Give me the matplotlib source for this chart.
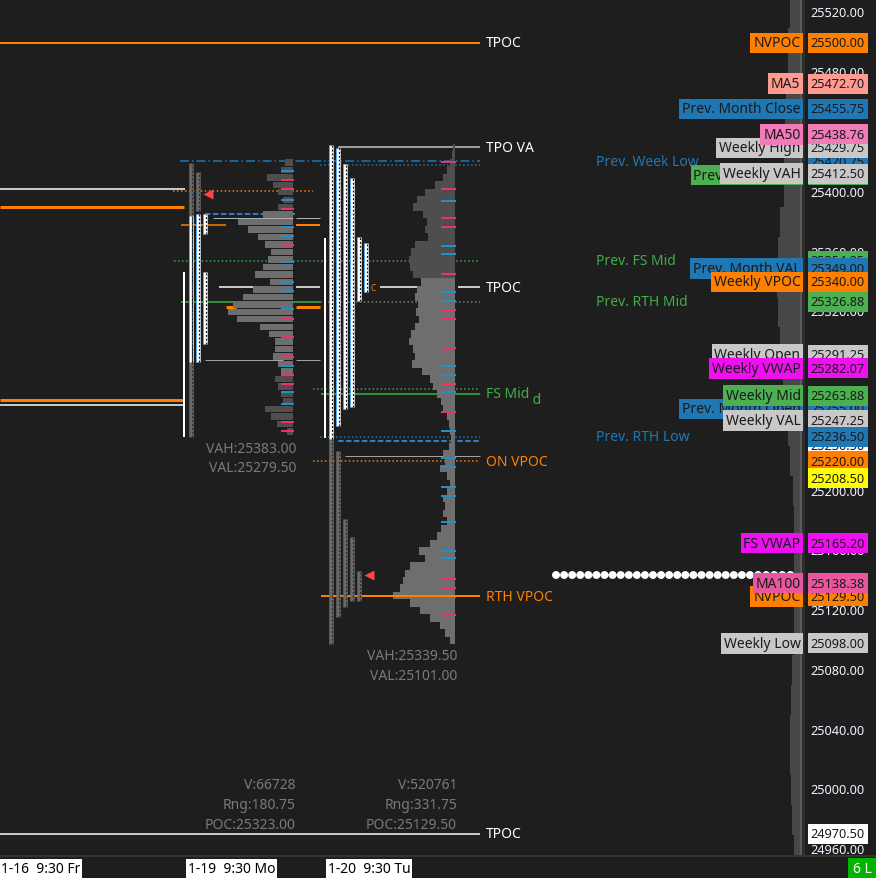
import matplotlib
matplotlib.use("Agg")
import matplotlib.pyplot as plt
from matplotlib.patches import Rectangle

plt.rcParams['font.family'] = ['Noto Sans', 'DejaVu Sans']
FS = 10
FSN = 9.2

BG = '#1e1e1e'
ORANGE = '#ff8000'
GREEN = '#3fae49'
BLUE = '#1f78b4'
LBLUE = '#3a9bff'
WHITE = '#ffffff'
PINKT = '#e8336b'
DTXT = '#1a1a1a'

# ---------------- data ----------------
axis_ticks = [25520, 25480, 25440, 25400, 25360, 25320, 25280, 25240,
              25200, 25160, 25120, 25080, 25040, 25000, 24960]

# right-axis price markers (drawn in this order, later on top)
marker_prices = [25500.00, 25472.70, 25455.75, 25420.75, 25429.75, 25438.76,
                 25411.50, 25412.50, 25354.25, 25349.00, 25340.00, 25326.88,
                 25291.25, 25282.07, 25255.00, 25263.88, 25247.25, 25230.50,
                 25236.50, 25220.00, 25208.50, 25165.20, 25129.50, 25138.38,
                 25098.00, 24970.50]
marker_names = ['NVPOC', 'MA5', 'Prev. Month Close', '', 'Weekly High', 'MA50',
                'Prev. Week High', 'Weekly VAH', '', 'Prev. Month VAL', 'Weekly VPOC', '',
                'Weekly Open', 'Weekly VWAP', 'Prev. Month Open', 'Weekly Mid', 'Weekly VAL', '',
                '', '', '', 'FS VWAP', 'NVPOC', 'MA100',
                'Weekly Low', '']
marker_colors = ['#ff8000', '#ff9a8f', '#1f77b4', '#1f77b4', '#c8c8c8', '#f27ab9',
                 '#4caf50', '#c8c8c8', '#4caf50', '#1f77b4', '#ff8000', '#4caf50',
                 '#c8c8c8', '#ee10ee', '#1f77b4', '#4caf50', '#c8c8c8', '#ffffff',
                 '#1f77b4', '#ff8000', '#ffff00', '#ee10ee', '#ff8000', '#e8579e',
                 '#c8c8c8', '#ffffff']

# chart texts left of the axis
side_text = ['Prev. Week Low', 'Prev. FS Mid', 'Prev. RTH Mid', 'Prev. RTH Low']
side_price = [25420.75, 25354.25, 25326.88, 25236.50]
side_color = [BLUE, GREEN, GREEN, BLUE]

# line labels
line_labels = ['TPOC', 'TPO VA', 'TPOC', 'FS Mid', 'ON VPOC', 'RTH VPOC', 'TPOC']
line_label_price = [25500.0, 25430.25, 25336.5, 25265.0, 25220.0, 25129.5, 24970.5]
line_label_color = [WHITE, WHITE, WHITE, GREEN, ORANGE, ORANGE, WHITE]

# session 1 (1-19) volume profile, 5-pt bins from 25240
s1_low = 25240
s1_vol = [6, 16, 22, 28, 10, 12, 15, 18, 12, 15, 20, 18, 18, 24, 33, 56, 65, 60, 50, 40,
          23, 38, 30, 25, 22, 28, 35, 45, 55, 30, 15, 10, 15, 20, 26, 12, 8]
s1_vah, s1_val = 25383.00, 25279.50
s1_stats = ['V:66728', 'Rng:180.75', 'POC:25323.00']

# session 2 (1-20) volume profile, 5-pt bins from 25100
s2_low = 25100
s2_vol = [5, 10, 15, 25, 35, 45, 62, 55, 52, 50,
          45, 30, 36, 25, 18, 14, 8, 12, 10, 12,
          8, 5, 8, 15, 10, 12, 6, 4, 5, 6,
          8, 12, 14, 18, 22, 25, 33, 43, 40, 42,
          46, 44, 40, 36, 39, 37, 40, 38, 34, 42,
          45, 46, 44, 40, 27, 30, 28, 32, 42, 38,
          30, 20, 12, 8, 5, 3, 2]
s2_vah, s2_val = 25339.50, 25101.00
s2_stats = ['V:520761', 'Rng:331.75', 'POC:25129.50']

# delta ticks at profile edges
s1_blue = [25414, 25395, 25377, 25371, 25353, 25340, 25334, 25322, 25284, 25266, 25258]
s1_pink = [25408, 25402, 25389, 25365, 25315, 25303, 25290, 25278, 25272, 25246, 25240]
s2_blue = [25394, 25364, 25359, 25333, 25327, 25284, 25278, 25266, 25240,
           25222, 25216, 25203, 25197, 25179, 25160, 25155]
s2_pink = [25420, 25402, 25383, 25377, 25345, 25321, 25315, 25296, 25272, 25253,
           25141, 25135, 25129, 25117]

# TPO columns: (column index, low, high)
s1_tpo_gray = [(0, 25236.2, 25419.6), (1, 25387.5, 25413.6)]
s1_tpo_white = [(0, 25286.4, 25384.1), (1, 25286.4, 25385.5), (2, 25372.1, 25385.5), (2, 25298.4, 25346.6)]
s2_tpo_white = [(0, 25234.9, 25431.6), (1, 25243.6, 25429.6), (2, 25255.0, 25418.9),
                (3, 25256.3, 25409.6), (4, 25327.2, 25370.1), (5, 25333.3, 25366.1)]
s2_tpo_gray = [(0, 25097.7, 25234.9), (1, 25115.7, 25226.8), (2, 25122.4, 25181.3),
               (3, 25126.4, 25169.3), (4, 25126.4, 25146.5)]
s1_ib = (25236.2, 25346.6)
s2_ib = (25235.5, 25369.4)
s1_arrow = 25398.8
s2_arrow = 25143.8
dot_line_price = 25144.0

# whole-range volume histogram (20-pt bins from 24960)
full_low = 24960
full_vol = [6, 8, 9, 10, 10, 9, 8, 6, 6, 6, 6, 6, 7, 10, 12, 15, 17, 20, 22, 23,
            22, 20, 16, 16, 15, 14, 12, 12, 10]

time_labels = ['1-16  9:30 Fr', '1-19  9:30 Mo', '1-20  9:30 Tu']

# ---------------- layout ----------------
Y_TOP, Y_BOT = 25529.37, 24956.4
PLOT_H = 856
PXP = PLOT_H / (Y_TOP - Y_BOT)   # pixels per point
S1_X, S1_R = 191, 293
S2_X, S2_R = 331, 455
COL_DX = 7
BOX_H = 20 / PXP

def lw(px):
    return px * 0.72

fig = plt.figure(figsize=(8.76, 8.79), dpi=100)
fig.patch.set_facecolor(BG)
ax = fig.add_axes([0, 23 / 879, 1, PLOT_H / 879])
ax.set_xlim(0, 876)
ax.set_ylim(Y_BOT, Y_TOP)
ax.axis('off')

# horizontal level lines: (price, x0, x1, color, style, width px, zorder)
DD = (0, (6, 2, 1, 2))
levels = [
    (marker_prices[0], 0, 480, ORANGE, '-', 2, 3),
    (marker_prices[-1], 0, 480, WHITE, '-', 1.5, 3),
    (25402.0, 0, 185, WHITE, '-', 1.5, 3),
    (25390.25, 0, 184, ORANGE, '-', 3, 3),
    (25261.0, 0, 184, ORANGE, '-', 3, 3),
    (25257.75, 0, 185, WHITE, '-', 1.5, 3),
    (25420.75, 180, 480, BLUE, DD, 1.5, 3),
    (25418.25, 320, 480, BLUE, ':', 1.5, 3),
    (25401.0, 173, 313, ORANGE, ':', 1.5, 3),
    (25430.25, 338, 480, '#c8c8c8', '-', 1.5, 3),
    (25385.5, 205, 295, LBLUE, '--', 1.5, 3),
    (s1_vah, 213, 293, '#b0b0b0', '-', 1, 3),
    (s1_vah, 296, 320, '#b0b0b0', '-', 1, 3),
    (25378.0, 181, 226, ORANGE, '-', 1.5, 3),
    (25378.0, 296, 320, ORANGE, '-', 2, 3),
    (25354.25, 174, 480, GREEN, ':', 1.5, 3),
    (25336.5, 219, 293, WHITE, '-', 1.5, 3),
    (25336.5, 296, 320, WHITE, '-', 1.5, 3),
    (25336.5, 380, 455, WHITE, '-', 1.5, 3),
    (25336.5, 458, 480, WHITE, '-', 1.5, 3),
    (25326.88, 181, 320, GREEN, '-', 1.5, 3),
    (25326.88, 320, 480, '#6a8a6a', ':', 1.5, 3),
    (25323.0, 226, 236, ORANGE, '-', 3, 3),
    (25323.0, 296, 320, ORANGE, '-', 3, 3),
    (25287.5, 205, 283, '#a0a0a0', '-', 1, 3),
    (25287.5, 296, 320, '#a0a0a0', '-', 1, 3),
    (25268.25, 313, 480, GREEN, ':', 1.5, 3),
    (25265.0, 321, 480, GREEN, '-', 1.5, 3),
    (25236.5, 320, 480, BLUE, ':', 1.5, 3),
    (25233.5, 338, 480, LBLUE, '--', 1.5, 3),
    (25223.5, 345, 480, '#a0a0a0', '-', 1, 3),
    (25220.0, 313, 480, ORANGE, ':', 1.5, 3),
    (25129.5, 321, 480, ORANGE, '-', 2, 6),
]
for p, x0, x1, c, ls, w, z in levels:
    ax.plot([x0, x1], [p, p], color=c, linestyle=ls, lw=lw(w), zorder=z,
            solid_capstyle='butt')

# volume profiles
def profile(low, vols, right, vah, val, h):
    prices = [low + 5 * i for i in range(len(vols))]
    cols = ['#6e6e6e' if val - 2.5 <= p <= vah + 2.5 else '#4e4e4e' for p in prices]
    ax.barh(prices, [-v for v in vols], left=right, height=h, color=cols,
            edgecolor='none', zorder=4)

profile(s1_low, s1_vol, S1_R, s1_vah, s1_val, 4.3)
profile(s2_low, s2_vol, S2_R, s2_vah, s2_val, 5.0)

def ticks(prices, right, color, length=12):
    ax.hlines(prices, right - length, right + 1, color=color, lw=lw(2), zorder=5)

ticks(s1_blue, S1_R, '#1f8fd0')
ticks(s1_pink, S1_R, PINKT)
ticks(s2_blue, S2_R, '#1f8fd0', 14)
ticks(s2_pink, S2_R, PINKT, 14)

# TPO columns
def tpo(cols, x0, color, dash):
    for i, lo, hi in cols:
        x = x0 + i * COL_DX
        ax.vlines(x, lo, hi, color=color, lw=lw(4.5), zorder=7)
        ax.vlines(x + 0.8, lo, hi, color=dash, lw=lw(1.2), linestyles=[(0, (1.6, 1.6))], zorder=8)
        if color == WHITE:
            ax.vlines(x - 2.2, lo, hi, color='#3fa0ff', lw=lw(0.8), zorder=8)

tpo(s1_tpo_gray, S1_X, '#6a6a6a', '#2a2a2a')
tpo(s1_tpo_white, S1_X, WHITE, '#111111')
tpo(s2_tpo_gray, S2_X, '#6a6a6a', '#2a2a2a')
tpo(s2_tpo_white, S2_X, WHITE, '#111111')

ax.vlines(184, *s1_ib, color=WHITE, lw=lw(2), zorder=6)
ax.vlines(325, *s2_ib, color=WHITE, lw=lw(2), zorder=6)
ax.plot(208, s1_arrow, marker='<', ms=7, color='#ff4545', mec='none', zorder=9)
ax.plot(369, s2_arrow, marker='<', ms=7, color='#ff4545', mec='none', zorder=9)
ax.text(373, 25336.5, 'C', color=ORANGE, fontsize=6, ha='center', va='center', zorder=9)

# dotted white chain
ax.plot([556, 797], [dot_line_price] * 2, color=WHITE, lw=lw(8),
        linestyle=(0, (0.01, 1.0)), dash_capstyle='round', zorder=6)

# full-range histogram at right edge
fprices = [full_low + 20 * i for i in range(len(full_vol))]
ax.barh(fprices, [-v for v in full_vol], left=800, height=20, color='#474747',
        edgecolor='none', zorder=2)
ax.vlines(801, Y_BOT, Y_TOP, color='#5a5a5a', lw=lw(2.5), zorder=2)
ax.vlines(804, Y_BOT, Y_TOP, color='#323232', lw=lw(1.5), zorder=2)

# line labels
ax.text(486, 25261.0, 'RTH Mid', color=GREEN, fontsize=FS, ha='left', va='center', zorder=10)
for t, p, c in zip(line_labels, line_label_price, line_label_color):
    ax.text(486, p, t, color=c, fontsize=FS, ha='left', va='center', zorder=11,
            bbox=dict(boxstyle='square,pad=0.3', fc=BG, ec='none') if t == 'FS Mid' else None)

for t, p, c in zip(side_text, side_price, side_color):
    ax.text(596, p, t, color=c, fontsize=FS, ha='left', va='center', zorder=10)

# session stats
def fy(ypx):
    return 1 - ypx / PLOT_H

GRY = '#7a7a7a'
ax.text(296 / 876, fy(450), f'VAH:{s1_vah:.2f}', transform=ax.transAxes, color=GRY, fontsize=FS, ha='right', va='center')
ax.text(296 / 876, fy(469), f'VAL:{s1_val:.2f}', transform=ax.transAxes, color=GRY, fontsize=FS, ha='right', va='center')
ax.text(457 / 876, fy(657), f'VAH:{s2_vah:.2f}', transform=ax.transAxes, color=GRY, fontsize=FS, ha='right', va='center')
ax.text(457 / 876, fy(677), f'VAL:{s2_val:.2f}', transform=ax.transAxes, color=GRY, fontsize=FS, ha='right', va='center')
for k, (a, b) in enumerate(zip(s1_stats, s2_stats)):
    ax.text(296 / 876, fy(786 + 20 * k), a, transform=ax.transAxes, color=GRY, fontsize=FS, ha='right', va='center')
    ax.text(457 / 876, fy(786 + 20 * k), b, transform=ax.transAxes, color=GRY, fontsize=FS, ha='right', va='center')

# axis tick labels
for p in axis_ticks:
    ax.text(810, p, f'{p:.2f}', color='#eef3ff', fontsize=FSN, ha='left', va='center', zorder=12)

# price markers
for i, (p, name, col) in enumerate(zip(marker_prices, marker_names, marker_colors)):
    z = 13 + i * 0.02
    if name:
        ax.text(800.5, p, name, ha='right', va='center', fontsize=FS, color=DTXT, zorder=z,
                bbox=dict(boxstyle='square,pad=0.2', fc=col, ec='none'))
    ax.add_patch(Rectangle((808, p - BOX_H / 2), 60, BOX_H, fc=col, ec='none', zorder=z))
    ax.text(810, p, f'{p:.2f}', ha='left', va='center', fontsize=FSN, color=DTXT, zorder=z + 0.01)

# bottom time strip
axb = fig.add_axes([0, 0, 1, 23 / 879])
axb.set_xlim(0, 876)
axb.set_ylim(0, 23)
axb.axis('off')
axb.plot([0, 876], [22.5, 22.5], color='#3a3a3a', lw=lw(1.5))
for t, x in zip(time_labels, [1, 188, 328]):
    axb.text(x, 9.5, t, color='black', fontsize=FS, ha='left', va='center',
             bbox=dict(boxstyle='square,pad=0.12', fc='white', ec='none'))
axb.add_patch(Rectangle((848, 0), 28, 20, fc='#00b400', ec='none'))
axb.text(862, 9.5, '6 L', color='white', fontsize=FS, ha='center', va='center')

fig.savefig('out.png', dpi=100, facecolor=BG)
